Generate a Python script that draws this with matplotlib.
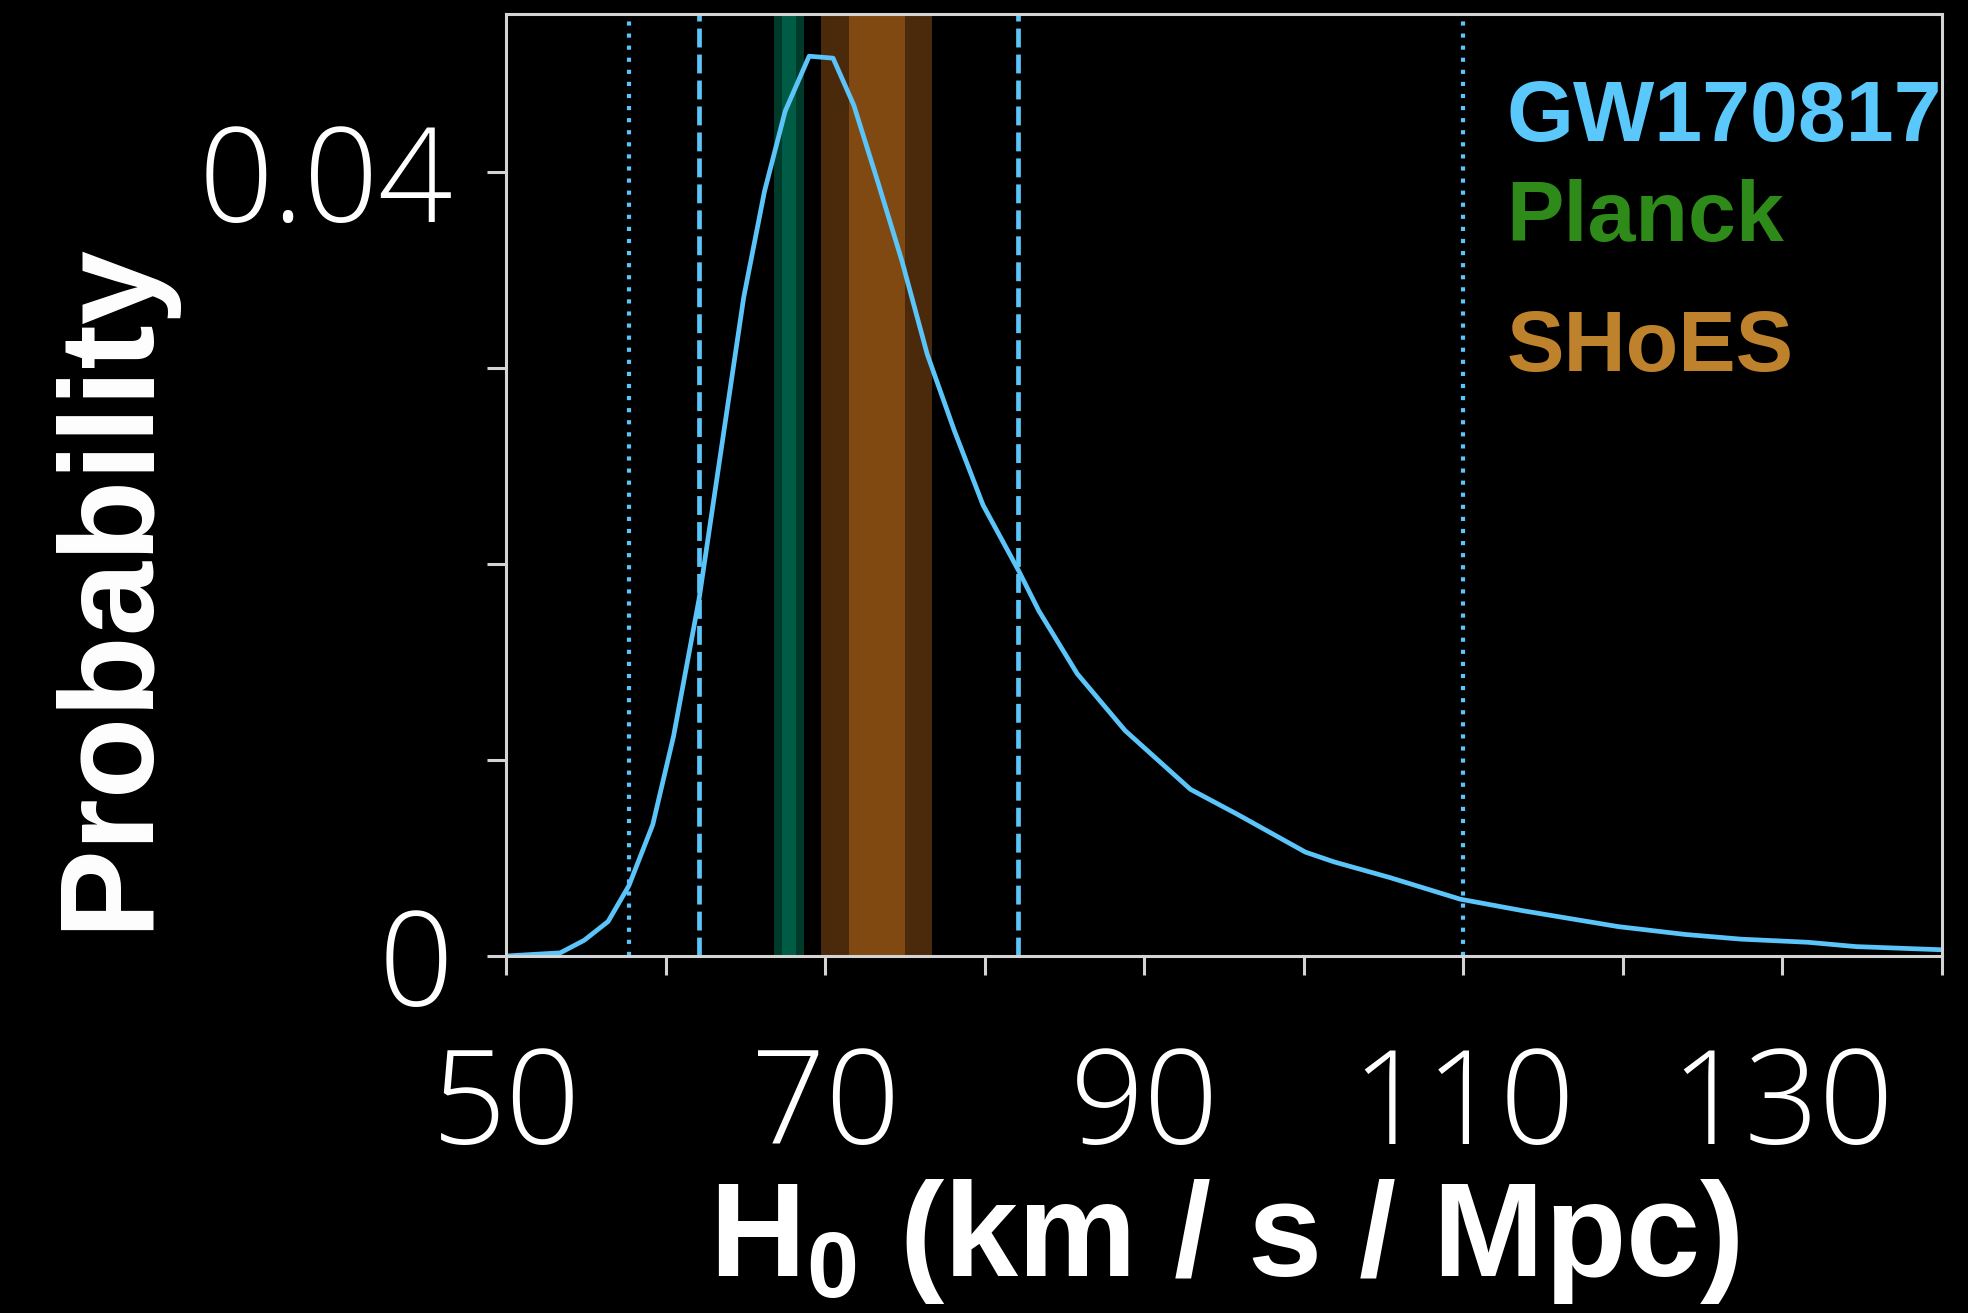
import matplotlib
matplotlib.use("Agg")
import matplotlib.pyplot as plt
from matplotlib.ticker import FixedLocator, MultipleLocator
import numpy as np

# H0 posterior from GW170817
h0 = [50.0, 53.4, 54.9, 56.4, 57.7, 59.2, 60.5, 62.1, 63.5, 64.9, 66.2, 67.5,
      69.0, 70.5, 71.8, 73.3, 74.8, 76.4, 78.1, 79.9, 82.1, 83.4, 85.8, 88.8,
      92.9, 95.9, 100.1, 101.9, 105.4, 107.8, 109.8, 113.8, 119.7, 123.9,
      127.4, 131.6, 134.6, 139.9]
prob = [0.0, 0.00016, 0.0008, 0.00176, 0.00358, 0.0067, 0.0112, 0.0182,
        0.0259, 0.0336, 0.0390, 0.0431, 0.0459, 0.0458, 0.0434, 0.0395,
        0.0355, 0.0307, 0.0268, 0.0230, 0.0197, 0.0176, 0.0144, 0.0115,
        0.0085, 0.0072, 0.0053, 0.0048, 0.0040, 0.0034, 0.0029, 0.0023,
        0.0015, 0.0011, 0.00086, 0.0007, 0.00048, 0.00032]

gw_68 = [62.1, 82.1]
gw_95 = [57.7, 110.0]

planck_mean, planck_sig = 67.74, 0.46
shoes_mean, shoes_sig = 73.24, 1.74

xticks_major = [50, 70, 90, 110, 130]
labels = ["GW170817", "Planck", "SHoES"]

gw_blue = "#5bc4f8"
text_cols = ["#5ac8fa", "#2e8b1a", "#be822d"]
spine_col = "#d4d4d4"

plt.rcParams["mathtext.fontset"] = "custom"
plt.rcParams["mathtext.rm"] = "Liberation Sans:bold"
plt.rcParams["mathtext.bf"] = "Liberation Sans:bold"

fig = plt.figure(figsize=(19.68, 13.13), dpi=100, facecolor="black")
ax = fig.add_axes([0.2571, 0.2719, 0.9868 - 0.2571, 0.9893 - 0.2719])
ax.set_facecolor("black")

# Planck and SHoES 1 and 2 sigma bands
ax.axvspan(planck_mean - 2 * planck_sig, planck_mean + 2 * planck_sig,
           color="#003a2a", lw=0)
ax.axvspan(planck_mean - planck_sig, planck_mean + planck_sig,
           color="#005c45", lw=0)
ax.axvspan(shoes_mean - 2 * shoes_sig, shoes_mean + 2 * shoes_sig,
           color="#4b2a0b", lw=0)
ax.axvspan(shoes_mean - shoes_sig, shoes_mean + shoes_sig,
           color="#7f4911", lw=0)

# credible intervals
for x in gw_68:
    ax.axvline(x, color=gw_blue, lw=3.4, dashes=(4, 1.5))
for x in gw_95:
    ax.axvline(x, color=gw_blue, lw=3.0, dashes=(1, 1.9))

ax.plot(h0, prob, color=gw_blue, lw=3.4)

ax.set_xlim(50, 140)
ax.set_ylim(0, 0.04805)

ax.xaxis.set_major_locator(FixedLocator(xticks_major))
ax.xaxis.set_minor_locator(MultipleLocator(10))
ax.yaxis.set_major_locator(MultipleLocator(0.04))
ax.yaxis.set_minor_locator(MultipleLocator(0.01))
ax.yaxis.set_major_formatter(lambda v, p: "0" if v == 0 else f"{v:g}")

for s in ax.spines.values():
    s.set_color(spine_col)
    s.set_linewidth(2.2)

tick_font = {"family": "Open Sans", "weight": "light", "size": 94}
ax.tick_params(which="both", direction="out", color=spine_col, width=2.2,
               length=14, labelcolor="white")
ax.tick_params(axis="y", pad=24)
ax.tick_params(axis="x", pad=50)
for lab in ax.get_xticklabels() + ax.get_yticklabels():
    lab.set_fontproperties(tick_font)

ax.set_xlabel(r"H$_0$ (km / s / Mpc)", color="white", fontsize=96,
              fontweight="bold", family="Liberation Sans")
ax.xaxis.set_label_coords(0.5, -0.235)
ax.set_ylabel("Probability", color="white", fontsize=96,
              fontweight="bold", family="Liberation Sans")
ax.yaxis.set_label_coords(-0.232, 0.393)

ys = [0.865, 0.759, 0.621]
for lab, col, y in zip(labels, text_cols, ys):
    ax.text(0.6964, y, lab, transform=ax.transAxes, color=col, fontsize=62,
            fontweight="bold", family="Liberation Sans", va="baseline")

fig.savefig("out.png", dpi=100, facecolor="black")
